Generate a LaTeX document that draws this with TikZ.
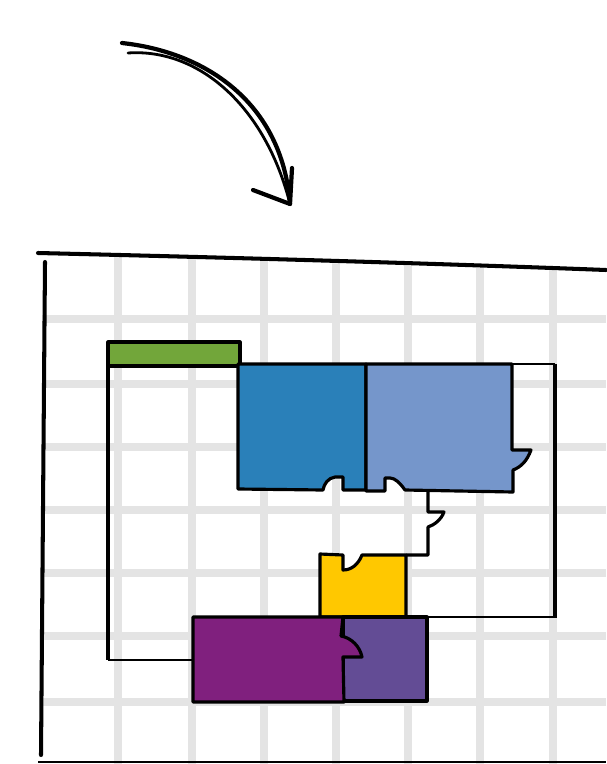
\documentclass[tikz,border=0pt]{standalone}
\usepackage{tikz}
\usepackage{xcolor}

\definecolor{gridgray}{HTML}{E4E4E4}
\definecolor{pzgreen}{HTML}{72A63A}
\definecolor{pzblue}{HTML}{2A80B9}
\definecolor{pzlight}{HTML}{7596CB}
\definecolor{pzyellow}{HTML}{FFC800}
\definecolor{pzpurple}{HTML}{80207E}
\definecolor{pzviolet}{HTML}{634C95}

\begin{document}
\begin{tikzpicture}[x=0.02cm, y=-0.02cm,
      gridline/.style={draw=gridgray, line width=4pt},
      frameline/.style={line width=2.3pt, line cap=round},
      piece/.style={draw, line width=1.8pt, line join=round},
      thinline/.style={line width=1.2pt},
      stroke/.style={line width=2.4pt, line cap=round, line join=round}
    ]
    \useasboundingbox (0,0) rectangle (606,764);

    % grid
    \begin{scope}
      \clip (42,254) -- (606,272) -- (606,764) -- (42,764) -- cycle;
      \foreach \x in {118,192,264,336,408,480,553}
        \draw[gridline] (\x,250) -- (\x,764);
      \foreach \y in {319,384,447,510,573,636,702}
        \draw[gridline] (42,\y) -- (606,\y);
    \end{scope}

    % frame
    \draw[frameline] (38,253) .. controls (250,258) and (450,264) .. (606,270);
    \draw[frameline] (45,262) -- (41,755);
    \draw[thinline] (38,762) -- (606,762);

    % arrow
    \coordinate (arrowstart) at (122,43);
    \coordinate (arrowtip)   at (290,204);
    \draw[stroke] (arrowstart) .. controls (205,52) and (282,102) .. (arrowtip);
    \draw[stroke, line width=1.6pt] (128,53) .. controls (200,48) and (266,108) .. (arrowtip);
    \draw[stroke] (253,190) -- (arrowtip) -- (292,168);

    % outline of the empty area
    \draw[piece] (108,366) -- (108,660);
    \draw[thinline, line width=1.5pt] (108,660) -- (193,660);
    \draw[thinline] (240,364) -- (555,364);
    \draw[piece, line width=2.2pt] (555,364) -- (555,618);
    \draw[thinline] (555,617) -- (427,617);
    \draw[piece] (428,491) -- (428,512) -- (444,512)
      .. controls (441,520) and (434,525) .. (428,527) -- (428,555) -- (406,555);

    % pieces
    \draw[piece, fill=pzgreen] (108,342) rectangle (240,366);
    \draw[piece, fill=pzblue] (238,364) -- (366,364) -- (366,490) -- (343,490)
      -- (343,477) -- (335,477) .. controls (328,478) and (324,484) .. (323,490)
      -- (238,489) -- cycle;
    \draw[piece, fill=pzlight] (366,364) -- (512,364) -- (512,450) -- (531,450)
      .. controls (527,461) and (521,467) .. (513,470) -- (513,492) -- (405,490)
      .. controls (400,483) and (395,478) .. (390,478) -- (385,478) -- (385,491)
      -- (366,491) -- cycle;
    \draw[piece, fill=pzyellow] (320,554) -- (343,555) -- (343,570)
      .. controls (351,570) and (358,565) .. (362,555) -- (406,555)
      -- (406,617) -- (320,617) -- cycle;
    \draw[piece, fill=pzviolet] (343,617) rectangle (427,701);
    \draw[piece, fill=pzpurple] (193,617) -- (343,617) -- (341,636)
      .. controls (352,638) and (360,647) .. (362,657) -- (343,657)
      -- (344,702) -- (193,702) -- cycle;
  \end{tikzpicture}
\end{document}
